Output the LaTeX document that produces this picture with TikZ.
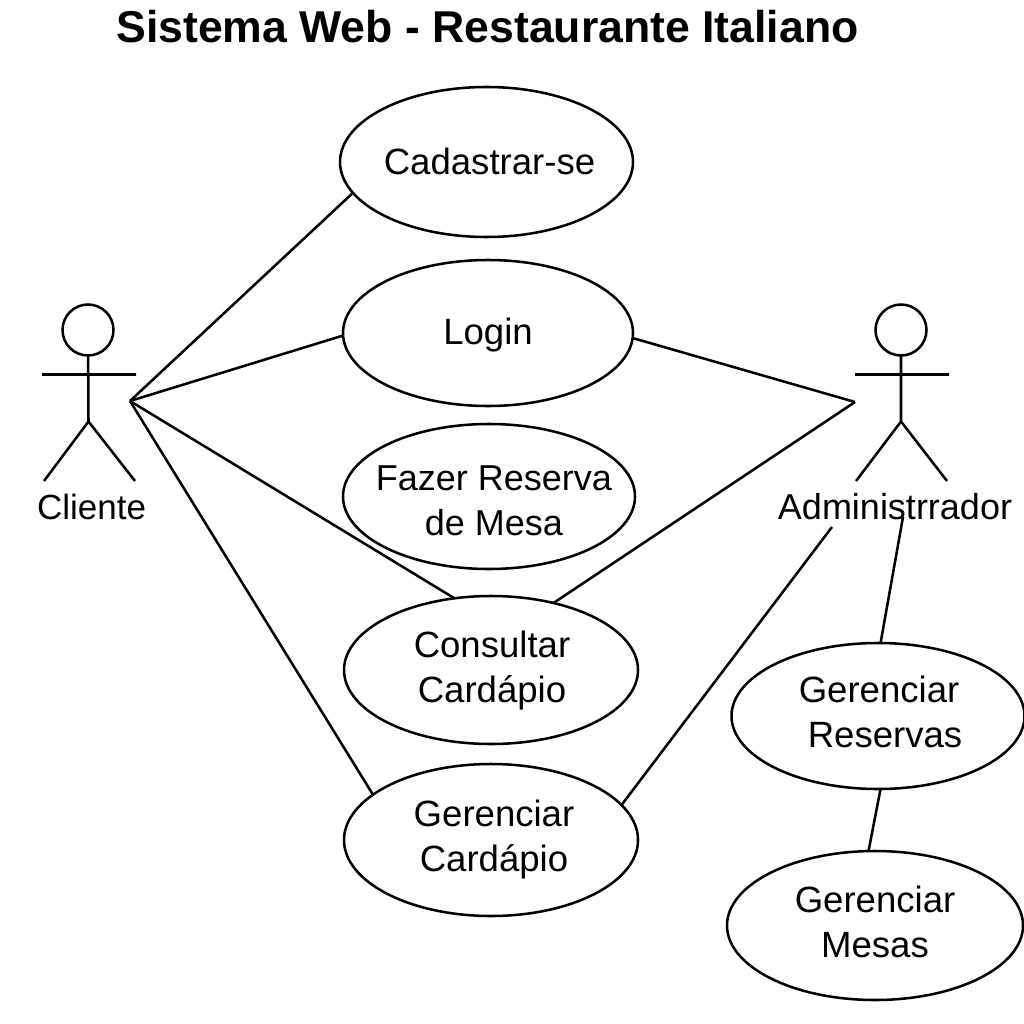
\documentclass[tikz,border=0pt]{standalone}
\usepackage{fontspec}
\setmainfont{Liberation Sans}
\usetikzlibrary{shapes.geometric}
\newlength{\pxu}\setlength{\pxu}{0.025cm}
\renewcommand{\arraystretch}{1.02}
\newcommand{\lbl}{\fontsize{26}{31.2}\selectfont}
% text set at an offset (in whole px, right and down) from the centre of its ellipse
\newcommand{\off}[3]{\raisebox{\dimexpr-#2\pxu-9\pxu\relax}[0pt][0pt]{\makebox[0pt]{\hspace*{\dimexpr2\pxu*#1\relax}\begin{tabular}{@{}c@{}}#3\end{tabular}}}}
\tikzset{
  x=0.025cm,y=-0.025cm,
  line/.style={draw=black,line width=1.8pt},
  uc/.style={ellipse,draw=black,line width=1.8pt,inner sep=0pt,outer sep=0pt,font=\lbl,text=black},
  txt/.style={inner sep=0pt,font=\lbl,text=black},
  head/.style={circle,draw=black,line width=1.8pt,minimum size=51*0.025cm,inner sep=0pt,outer sep=0pt},
}
\begin{document}
\begin{tikzpicture}
\useasboundingbox (0,0) rectangle (1024,1024);
\node[inner sep=0pt,font=\fontsize{31.7}{38}\selectfont\bfseries] (title) at (487.5,27) {Sistema Web - Restaurante Italiano};
\node[uc,minimum width=293*0.025cm,minimum height=150*0.025cm] (cad) at (486.5,162) {\off{3}{3}{Cadastrar-se}};
\node[uc,minimum width=290*0.025cm,minimum height=146*0.025cm] (log) at (488,333) {\off{0}{2}{Login}};
\node[uc,minimum width=292*0.025cm,minimum height=145*0.025cm] (faz) at (489,496.5) {\off{5}{7}{\fontsize{25.6}{31.2}\selectfont Fazer Reserva\\\fontsize{25.6}{31.2}\selectfont de Mesa}};
\node[uc,minimum width=294*0.025cm,minimum height=148*0.025cm] (con) at (491,670) {\off{1}{1}{Consultar\\Cardápio}};
\node[uc,minimum width=294*0.025cm,minimum height=152*0.025cm] (gca) at (491,840) {\off{3}{0}{Gerenciar\\Cardápio}};
\node[uc,minimum width=293*0.025cm,minimum height=146*0.025cm] (gre) at (878,716) {\off{1}{0}{Gerenciar\\\hspace*{12\pxu}Reservas}};
\node[uc,minimum width=296*0.025cm,minimum height=149*0.025cm] (gme) at (875,925.5) {\off{0}{0}{Gerenciar\\Mesas}};
% actors
\node[head] (h1) at (88,330) {};
\node[head] (h2) at (901,330) {};
\coordinate (hip1) at (88.5,421.5); \coordinate (hip2) at (901,421.5);
\coordinate (al1) at (42,374.5); \coordinate (ar1) at (136,374.5);
\coordinate (al2) at (855,374.5); \coordinate (ar2) at (949,374.5);
\coordinate (fl1) at (44,481); \coordinate (fr1) at (135,481);
\coordinate (fl2) at (856,481); \coordinate (fr2) at (947,481);
\draw[line] (h1) -- (hip1) -- (fl1) (hip1) -- (fr1) (al1) -- (ar1);
\draw[line] (h2) -- (hip2) -- (fl2) (hip2) -- (fr2) (al2) -- (ar2);
\node[txt,font=\fontsize{24.9}{30}\selectfont] (cli) at (91.5,507) {Cliente};
\node[txt,font=\fontsize{25.6}{30}\selectfont] (adm) at (895,507) {Administrrador};
% connectors
\coordinate (c) at (130,401); \coordinate (a) at (855,402);
\coordinate (a1) at (832,527); \coordinate (a2) at (903,517);
\draw[line] (c) -- (cad.193.2);
\draw[line] (c) -- (log.181.6);
\draw[line] (c) -- (con.117.8);
\draw[line] (c) -- (gca.159.1);
\draw[line] (a) -- (log.358);
\draw[line] (a) -- (con.47.6);
\draw[line] (a1) -- (gca.15);
\draw[line] (a2) -- (gre.88);
\draw[line] (gre.272.3) -- (gme.95);
\end{tikzpicture}
\end{document}
